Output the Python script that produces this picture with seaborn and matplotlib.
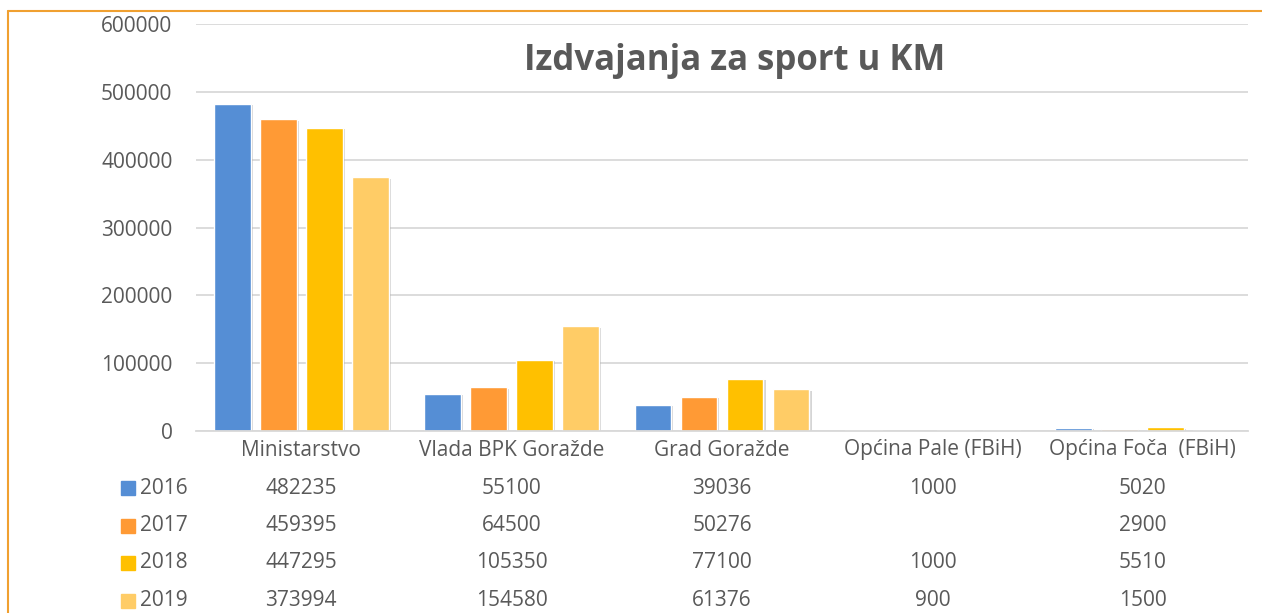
import numpy as np
import pandas as pd
import matplotlib.pyplot as plt
import matplotlib.patheffects as pe
from matplotlib.patches import Rectangle
from matplotlib.lines import Line2D
from matplotlib.transforms import blended_transform_factory
import seaborn as sns

categories = ["Ministarstvo", "Vlada BPK Goražde", "Grad Goražde",
              "Općina Pale (FBiH)", "Općina Foča  (FBiH)"]
years = ["2016", "2017", "2018", "2019"]
v2016 = [482235, 55100, 39036, 1000, 5020]
v2017 = [459395, 64500, 50276, np.nan, 2900]
v2018 = [447295, 105350, 77100, 1000, 5510]
v2019 = [373994, 154580, 61376, 900, 1500]
colors = ["#558ED5", "#FF9A35", "#FFC000", "#FFCC66"]

series = [v2016, v2017, v2018, v2019]
df = pd.DataFrame([(c, y, v) for y, vals in zip(years, series)
                   for c, v in zip(categories, vals)],
                  columns=["kategorija", "godina", "iznos"])

sns.set_style("white")
plt.rcParams['font.family'] = ['Open Sans', 'DejaVu Sans']
txt = "#595959"

W, H = 1262, 613
fig = plt.figure(figsize=(W / 100, H / 100), dpi=100)
ax = fig.add_axes([196 / W, (H - 431) / H, (1248 - 196) / W, (431 - 24) / H])

sns.barplot(data=df, x="kategorija", y="iznos", hue="godina", order=categories,
            hue_order=years, palette=colors, width=0.875, gap=0.2,
            saturation=1, legend=False, ax=ax)
for p in ax.patches:
    p.set_path_effects([pe.SimplePatchShadow(offset=(1.5, -1), shadow_rgbFace="#888888", alpha=0.35),
                        pe.Normal()])

ax.set_xlim(-0.5, len(categories) - 0.5)
ax.set_ylim(0, 600000)
ax.set_yticks(np.arange(0, 600001, 100000))
ax.set_yticklabels([f"{int(t)}" for t in ax.get_yticks()], fontsize=15, color=txt)
ax.tick_params(axis="y", length=0, pad=17)
ax.set_xticks([])
ax.set_xlabel("")
ax.set_ylabel("")
ax.yaxis.grid(True, color="#D9D9D9", linewidth=1.3)
ax.set_axisbelow(True)
for s in ["left", "right", "top"]:
    ax.spines[s].set_visible(False)
ax.spines["bottom"].set_color("#D9D9D9")
ax.spines["bottom"].set_linewidth(1.3)

fig.text(735 / W, 1 - 61 / H, "Izdvajanja za sport u KM", fontsize=25,
         fontweight="bold", color=txt, ha="center", va="center")

# data table under the bars
tr = blended_transform_factory(ax.transData, fig.transFigure)
for i, c in enumerate(categories):
    ax.text(i, 1 - 450 / H, c, transform=tr, ha="center", va="center",
            fontsize=15, color=txt, clip_on=False)
for r, (y, vals, col) in enumerate(zip(years, series, colors)):
    ypix = 488 + r * 37.5
    fig.patches.append(Rectangle((121 / W, 1 - (ypix + 7) / H), 14 / W, 14 / H,
                                 transform=fig.transFigure, color=col))
    fig.text(140 / W, 1 - ypix / H, y, fontsize=15, color=txt, ha="left", va="center")
    for i, v in enumerate(vals):
        if not np.isnan(v):
            ax.text(i, 1 - ypix / H, f"{int(v)}", transform=tr, ha="center",
                    va="center", fontsize=15, color=txt, clip_on=False)

# orange frame on left and top
fig.lines.append(Line2D([8 / W, 8 / W], [0, 1 - 11 / H], transform=fig.transFigure,
                        color="#F0A030", linewidth=1.5))
fig.lines.append(Line2D([8 / W, 1], [1 - 11 / H, 1 - 11 / H], transform=fig.transFigure,
                        color="#F0A030", linewidth=1.5))

fig.savefig("out.png", dpi=100)
